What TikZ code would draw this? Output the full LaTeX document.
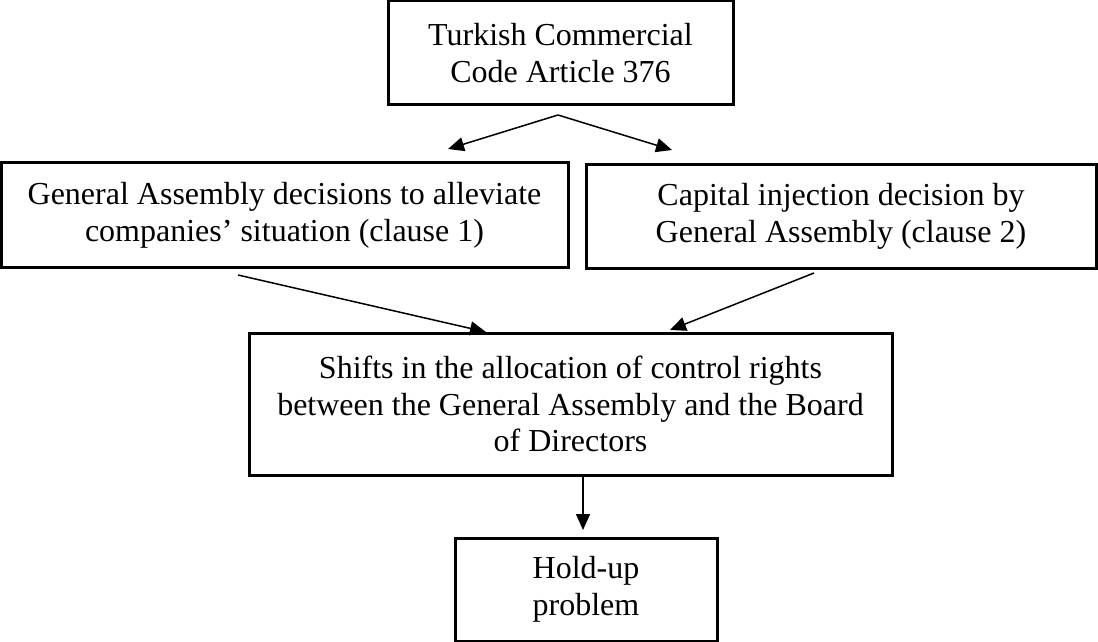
\documentclass[tikz,border=0pt]{standalone}
\usepackage{fontspec}
\setmainfont{Liberation Serif}
\usetikzlibrary{arrows.meta}
\tikzset{
  box/.style={draw, line width=1.5pt, align=center, inner sep=0pt,
    font=\fontsize{16pt}{18.4pt}\selectfont},
  arr/.style={line width=0.75pt, -{Triangle[length=8pt,width=7pt]}}
}
\begin{document}
\begin{tikzpicture}[x=0.5pt,y=-0.5pt]
\useasboundingbox (0,0) rectangle (1098,642);
\node[box, minimum width=172.5pt, minimum height=52pt] (top) at (560.5,53) {Turkish Commercial\\Code Article 376};
\node[box, minimum width=283.5pt, minimum height=52pt] (left) at (284.5,215) {General Assembly decisions to alleviate\\companies’ situation (clause 1)};
\node[box, minimum width=255pt, minimum height=51.5pt] (right) at (841,216.5) {Capital injection decision by\\General Assembly (clause 2)};
\node[box, minimum width=321.5pt, minimum height=71pt] (mid) at (570.5,404) {Shifts in the allocation of control rights\\between the General Assembly and the Board\\of Directors};
\node[box, minimum width=131pt, minimum height=51.5pt] (bot) at (586,589.5) {Hold-up\\problem};
\coordinate (a0) at (558,115);
\coordinate (a1) at (448,149);
\coordinate (a2) at (672,150);
\coordinate (b0) at (238,275);
\coordinate (b1) at (486,332);
\coordinate (c0) at (814,273);
\coordinate (c1) at (670,330);
\coordinate (d0) at (583,476);
\coordinate (d1) at (583,530);
\draw[arr] (a0) -- (a1);
\draw[arr] (a0) -- (a2);
\draw[arr] (b0) -- (b1);
\draw[arr] (c0) -- (c1);
\draw[arr] (d0) -- (d1);
\end{tikzpicture}
\end{document}
